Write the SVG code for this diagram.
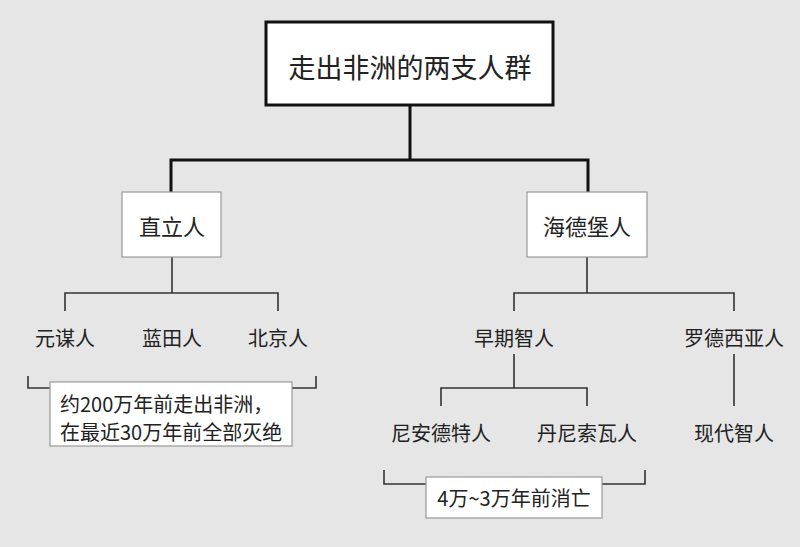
<svg xmlns="http://www.w3.org/2000/svg" width="800" height="547" viewBox="0 0 800 547">
<style>
.bg{fill:#e6e6e6}
.main{fill:#fff;stroke:#111;stroke-width:3}
.box{fill:#fff;stroke:#999;stroke-width:1.2}
.t{font-family:"Noto Sans CJK SC","Noto Sans",sans-serif;fill:#222;text-anchor:middle;dominant-baseline:central}
.thick{fill:none;stroke:#111;stroke-width:3}
.thin{fill:none;stroke:#333;stroke-width:1.6}
</style>
<rect class="bg" x="0" y="0" width="800" height="547"/>
<g id="connectors">
<path class="thick" d="M410 105V160M171 193V160H588V193"/>
<path class="thin" d="M172 257V293M65 311V293H278V311"/>
<path class="thin" d="M587 257V293M514 311V293H734V311"/>
<path class="thin" d="M514 354V388M441 406V388H587V406"/>
<path class="thin" d="M734 354V406"/>
<path class="thin" d="M28 376V388H50M292 388H316V376"/>
<path class="thin" d="M384 470V484H426M602 484H645V470"/>
</g>
<g id="root"><rect class="main" x="266" y="22" width="287" height="83"/><text class="t" x="410" y="66" font-size="27">走出非洲的两支人群</text></g>
<g id="zhili"><rect class="box" x="122" y="192" width="99" height="65"/><text class="t" x="172" y="225" font-size="22">直立人</text></g>
<g id="haidebao"><rect class="box" x="527" y="192" width="120" height="65"/><text class="t" x="587" y="225" font-size="22">海德堡人</text></g>
<g id="yuanmou"><text class="t" x="65" y="337" font-size="20">元谋人</text></g>
<g id="lantian"><text class="t" x="172" y="337" font-size="20">蓝田人</text></g>
<g id="beijing"><text class="t" x="278" y="337" font-size="20">北京人</text></g>
<g id="zaoqi"><text class="t" x="514" y="337" font-size="20">早期智人</text></g>
<g id="luode"><text class="t" x="734" y="337" font-size="20">罗德西亚人</text></g>
<g id="niande"><text class="t" x="441" y="432" font-size="20">尼安德特人</text></g>
<g id="danni"><text class="t" x="587" y="432" font-size="20">丹尼索瓦人</text></g>
<g id="xiandai"><text class="t" x="734" y="432" font-size="20">现代智人</text></g>
<g id="note1"><rect class="box" x="50" y="382" width="242" height="64"/><text class="t" x="60" y="403" font-size="20" style="text-anchor:start">约200万年前走出非洲，</text><text class="t" x="60" y="431" font-size="20" style="text-anchor:start">在最近30万年前全部灭绝</text></g>
<g id="note2"><rect class="box" x="426" y="477" width="176" height="41"/><text class="t" x="514" y="497" font-size="20">4万~3万年前消亡</text></g>
</svg>
